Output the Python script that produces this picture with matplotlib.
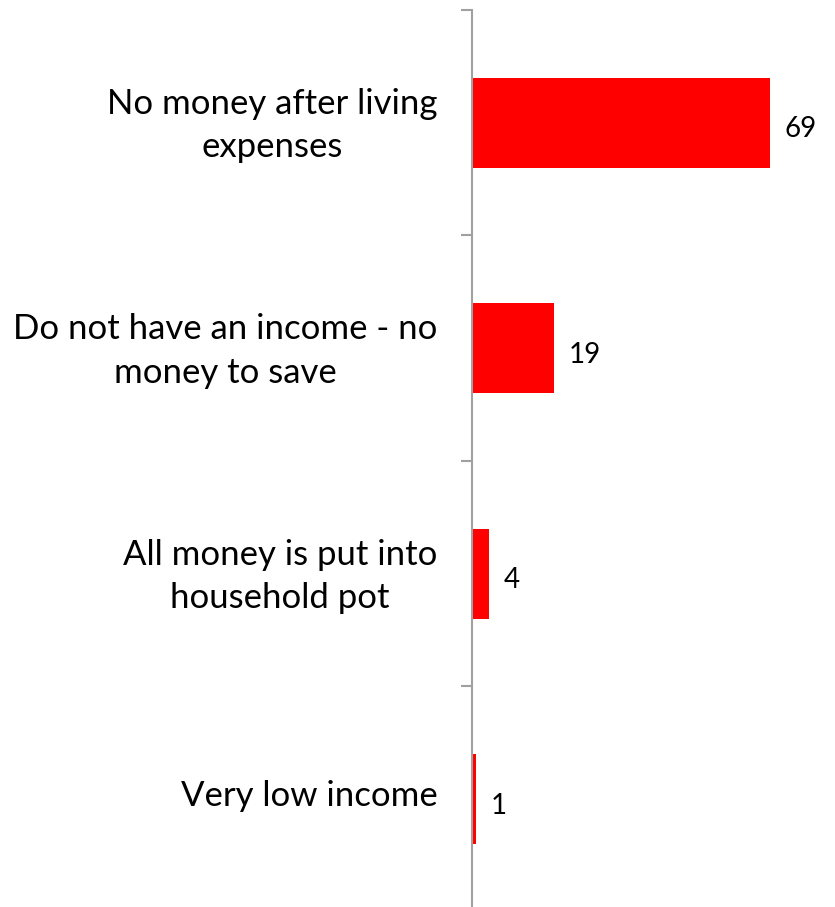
import numpy as np
import matplotlib.pyplot as plt
import matplotlib.transforms as mtransforms

# Reasons for not saving (%)
reasons = ["No money after living\nexpenses",
           "Do not have an income - no\nmoney to save",
           "All money is put into\nhousehold pot",
           "Very low income"]
percent = [69, 19, 4, 1]

plt.rcParams['font.family'] = ['Lato', 'DejaVu Sans']

fig = plt.figure(figsize=(8.35, 9.07), dpi=100)
ax = fig.add_axes([0.5653, -0.0055, 0.414, 0.9945])

y = np.arange(len(reasons))
ax.barh(y, percent, height=0.4, color='#FF0000')

for yi, v in zip(y, percent):
    ax.text(v + 3.3, yi + 0.03, str(v), va='center', ha='left', fontsize=20)

ax.set_xlim(0, 80)
ax.set_ylim(len(reasons) - 0.5, -0.5)

for s in ['top', 'right', 'bottom']:
    ax.spines[s].set_visible(False)
ax.spines['left'].set_color('#A0A0A0')
ax.spines['left'].set_linewidth(1.5)
ax.set_xticks([])

ax.set_yticks(y)
ax.set_yticklabels(reasons, fontsize=25, multialignment='center', linespacing=1.45)
ax.tick_params(axis='y', which='major', length=0, pad=25)
ax.set_yticks(np.arange(-0.5, len(reasons) + 0.5, 1), minor=True)
ax.tick_params(axis='y', which='minor', length=8, width=1.5, color='#A0A0A0')

# nudge category labels up a little
shift = mtransforms.ScaledTranslation(0, 0.06, fig.dpi_scale_trans)
for lbl in ax.get_yticklabels():
    lbl.set_transform(lbl.get_transform() + shift)

fig.savefig('out.png', dpi=100)
